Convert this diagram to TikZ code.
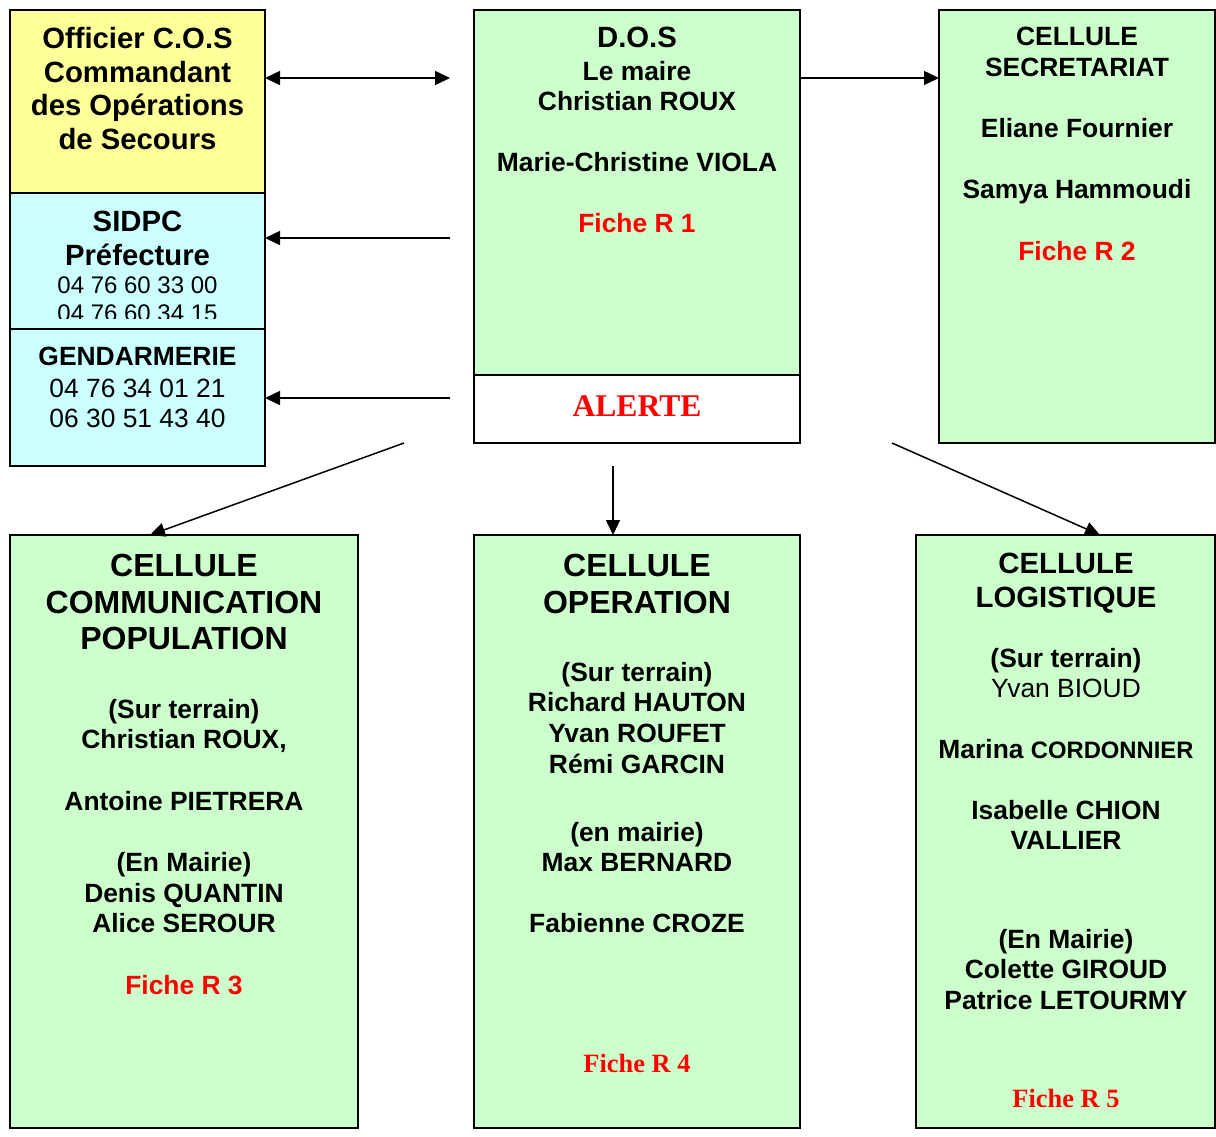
\documentclass[tikz,border=0pt]{standalone}
\usepackage{fontspec}
\newfontfamily\arialf{Liberation Sans}
\newfontfamily\timesf{Liberation Serif}
\usetikzlibrary{arrows.meta}
\definecolor{boxgreen}{HTML}{CCFFCC}
\definecolor{boxcyan}{HTML}{CCFFFF}
\definecolor{boxyellow}{HTML}{FFFF99}
\definecolor{fichered}{HTML}{FF0000}
\tikzset{
 box/.style={draw=black, line width=2pt, inner sep=0pt, outer sep=0pt, anchor=north west},
 lbl/.style={anchor=base, inner sep=0pt, outer sep=0pt},
 bt/.style={lbl, font=\arialf\bfseries\fontsize{26.4}{30}\selectfont},
 rt/.style={lbl, font=\arialf\fontsize{26.4}{30}\selectfont},
 nt/.style={lbl, font=\arialf\fontsize{24}{28}\selectfont},
 ht/.style={lbl, font=\arialf\bfseries\fontsize{29.3}{34}\selectfont},
 Ht/.style={lbl, font=\arialf\bfseries\fontsize{32}{37}\selectfont},
 rf/.style={bt, text=fichered},
 sf/.style={lbl, font=\timesf\bfseries\fontsize{26.4}{30}\selectfont, text=fichered},
 conn/.style={line width=1.5pt, -{Triangle[length=15pt,width=14pt]}},
 dconn/.style={line width=1.5pt, {Triangle[length=15pt,width=14pt]}-{Triangle[length=15pt,width=14pt]}},
}
\begin{document}
\begin{tikzpicture}[x=1pt,y=-1pt]
\useasboundingbox[fill=white] (0,0) rectangle (1216,1136);

% ---------- boxes ----------
\node[box, fill=boxyellow, minimum width=255pt, minimum height=183pt] (cos) at (10,10) {};
\node[box, fill=boxcyan, minimum width=255pt, minimum height=136pt] (sidpc) at (10,193) {};
\node[box, fill=boxcyan, minimum width=255pt, minimum height=137pt] (gend) at (10,329) {};
\node[box, fill=boxgreen, minimum width=326pt, minimum height=365pt] (dos) at (474,10) {};
\node[box, fill=white, minimum width=326pt, minimum height=68pt] (alerte) at (474,375) {};
\node[box, fill=boxgreen, minimum width=276pt, minimum height=433pt] (sec) at (939,10) {};
\node[box, fill=boxgreen, minimum width=348pt, minimum height=593pt] (comm) at (10,535) {};
\node[box, fill=boxgreen, minimum width=326pt, minimum height=593pt] (oper) at (474,535) {};
\node[box, fill=boxgreen, minimum width=299pt, minimum height=593pt] (logi) at (916,535) {};

% ---------- Officier COS ----------
\node[ht] (cos1) at (137.5,48) {Officier C.O.S};
\node[ht] (cos2) at (137.5,82) {Commandant};
\node[ht] (cos3) at (137.5,115.5) {des Opérations};
\node[ht] (cos4) at (137.5,149) {de Secours};

% ---------- SIDPC ----------
\begin{scope}
\clip (10,193) rectangle (265,318);
\node[ht] (sid1) at (137.5,231) {SIDPC};
\node[ht] (sid2) at (137.5,265) {Préfecture};
\node[nt] (sid3) at (137.5,293) {04 76 60 33 00};
\node[nt] (sid4) at (137.5,321) {04 76 60 34 15};
\end{scope}

% ---------- Gendarmerie ----------
\node[bt] (gen1) at (137.5,365) {GENDARMERIE};
\node[rt] (gen2) at (137.5,397) {04 76 34 01 21};
\node[rt] (gen3) at (137.5,427) {06 30 51 43 40};

% ---------- DOS ----------
\node[ht] (dos1) at (637,47) {D.O.S};
\node[bt] (dos2) at (637,80) {Le maire};
\node[bt] (dos3) at (637,110.4) {Christian ROUX};
\node[bt] (dos4) at (637,171.2) {Marie-Christine VIOLA};
\node[rf] (dos5) at (637,232) {Fiche R 1};
\node[lbl, font=\timesf\bfseries\fontsize{31.6}{36}\selectfont, text=fichered] (al1) at (637,416) {ALERTE};

% ---------- Secretariat ----------
\node[bt] (sec1) at (1077,45.5) {CELLULE};
\node[bt] (sec2) at (1077,76.5) {SECRETARIAT};
\node[bt] (sec3) at (1077,137.5) {Eliane Fournier};
\node[bt] (sec4) at (1077,198.5) {Samya Hammoudi};
\node[rf] (sec5) at (1077,260) {Fiche R 2};

% ---------- Communication ----------
\node[Ht] (com1) at (184,576) {CELLULE};
\node[Ht] (com2) at (184,613) {COMMUNICATION};
\node[Ht] (com3) at (184,649.5) {POPULATION};
\node[bt] (com4) at (184,718.5) {(Sur terrain)};
\node[bt] (com5) at (184,748.5) {Christian ROUX,};
\node[bt] (com6) at (184,810) {Antoine PIETRERA};
\node[bt] (com7) at (184,871.5) {(En Mairie)};
\node[bt] (com8) at (184,902) {Denis QUANTIN};
\node[bt] (com9) at (184,932.5) {Alice SEROUR};
\node[rf] (com10) at (184,994) {Fiche R 3};

% ---------- Operation ----------
\node[Ht] (op1) at (637,576.5) {CELLULE};
\node[Ht] (op2) at (637,613) {OPERATION};
\node[bt] (op3) at (637,681.5) {(Sur terrain)};
\node[bt] (op4) at (637,711.5) {Richard HAUTON};
\node[bt] (op5) at (637,742.5) {Yvan ROUFET};
\node[bt] (op6) at (637,773.5) {Rémi GARCIN};
\node[bt] (op7) at (637,841.5) {(en mairie)};
\node[bt] (op8) at (637,871.5) {Max BERNARD};
\node[bt] (op9) at (637,932.5) {Fabienne CROZE};
\node[sf] (op10) at (637,1072) {Fiche R 4};

% ---------- Logistique ----------
\node[ht] (lo1) at (1066,573.5) {CELLULE};
\node[ht] (lo2) at (1066,607.5) {LOGISTIQUE};
\node[bt] (lo3) at (1066,667) {(Sur terrain)};
\node[rt] (lo4) at (1066,697) {Yvan BIOUD};
\node[bt] (lo5) at (1066,758.5) {Marina {\fontsize{23.8}{28}\selectfont CORDONNIER}};
\node[bt] (lo6) at (1066,819) {Isabelle CHION};
\node[bt] (lo7) at (1066,849.5) {VALLIER};
\node[bt] (lo8) at (1066,948.5) {(En Mairie)};
\node[bt] (lo9) at (1066,978.5) {Colette GIROUD};
\node[bt] (lo10) at (1066,1009) {Patrice LETOURMY};
\node[sf] (lo11) at (1066,1107) {Fiche R 5};

% ---------- connectors ----------
\coordinate (c1) at (450,78);
\coordinate (c2) at (450,238);
\coordinate (c3) at (450,398);
\coordinate (c4) at (404,443);
\coordinate (c5) at (150,535);
\coordinate (c6) at (613,466);
\coordinate (c7) at (892,443);
\coordinate (c8) at (1100,535);

\draw[dconn] (c1 -| cos.east) -- (c1);
\draw[conn] (c1 -| dos.east) -- (c1 -| sec.west);
\draw[conn] (c2) -- (c2 -| sidpc.east);
\draw[conn] (c3) -- (c3 -| gend.east);
\draw[conn] (c4) -- (c5);
\draw[conn] (c6) -- (c6 |- oper.north);
\draw[conn] (c7) -- (c8);
\end{tikzpicture}
\end{document}
